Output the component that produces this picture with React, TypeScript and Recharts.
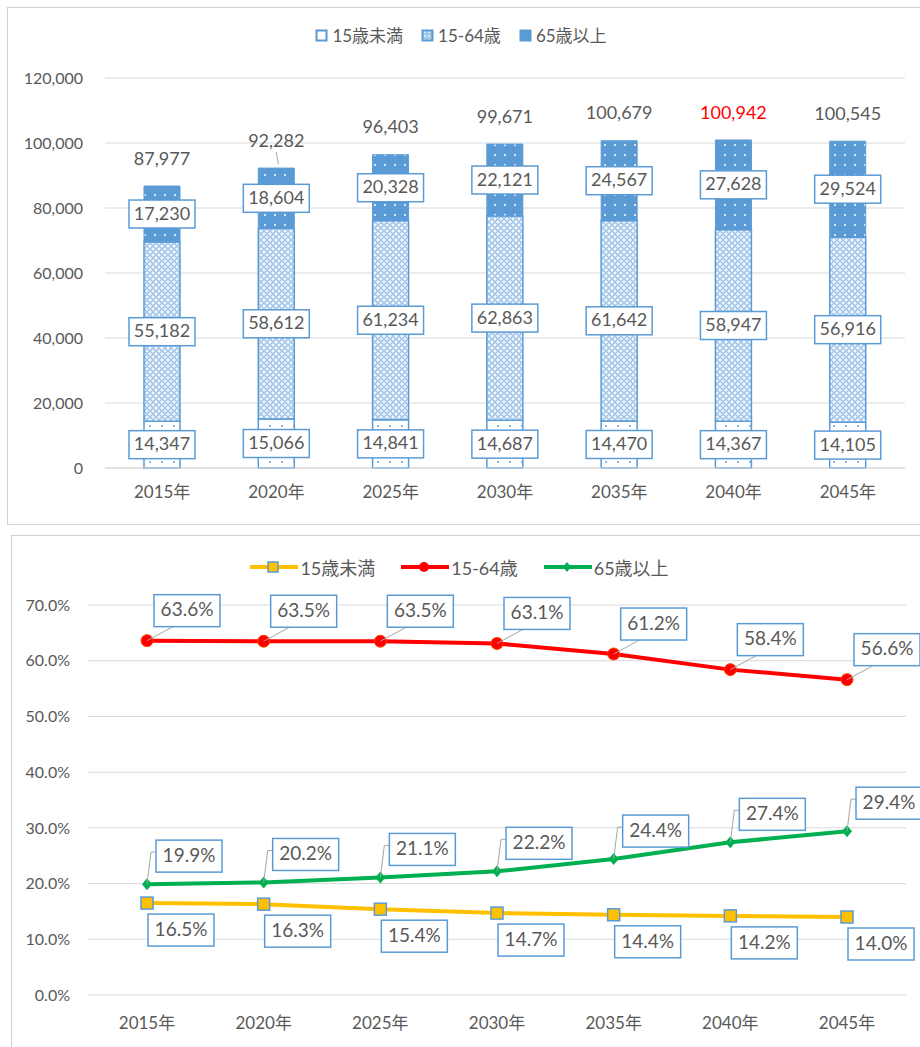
import React from "react";
import {
  BarChart,
  Bar,
  LineChart,
  Line,
  XAxis,
  YAxis,
  CartesianGrid,
  LabelList,
} from "recharts";

const years = ["2015年", "2020年", "2025年", "2030年", "2035年", "2040年", "2045年"];

// population (persons)
const under15 = [14347, 15066, 14841, 14687, 14470, 14367, 14105];
const working = [55182, 58612, 61234, 62863, 61642, 58947, 56916];
const elderly = [17230, 18604, 20328, 22121, 24567, 27628, 29524];
const totals = [87977, 92282, 96403, 99671, 100679, 100942, 100545];

// share of population (%)
const under15Pct = [16.5, 16.3, 15.4, 14.7, 14.4, 14.2, 14.0];
const workingPct = [63.6, 63.5, 63.5, 63.1, 61.2, 58.4, 56.6];
const elderlyPct = [19.9, 20.2, 21.1, 22.2, 24.4, 27.4, 29.4];

const popTicks = [0, 20000, 40000, 60000, 80000, 100000, 120000];
const pctTicks = [0, 10, 20, 30, 40, 50, 60, 70];

const seriesNames = ["15歳未満", "15-64歳", "65歳以上"];
const peakIndex = 5; // 2040 total is shown in red

const FONT = "Lato, 'Noto Sans CJK JP', sans-serif";
const TEXT = "#595959";
const BLUE = "#5b9bd5";
const GRID = "#d9d9d9";

const popData = years.map((year, i) => ({
  year,
  under15: under15[i],
  working: working[i],
  elderly: elderly[i],
  total: totals[i],
}));

const pctData = years.map((year, i) => ({
  year,
  under15: under15Pct[i],
  working: workingPct[i],
  elderly: elderlyPct[i],
}));

const fmt = (v: number) => v.toLocaleString("en-US");

function BoxLabel({ cx, cy, text, w = 66, h = 28, size = 18 }: any) {
  return (
    <g>
      <rect
        x={cx - w / 2}
        y={cy - h / 2}
        width={w}
        height={h}
        fill="#fff"
        stroke={BLUE}
        strokeWidth={1.5}
      />
      <text
        x={cx}
        y={cy + 1}
        textAnchor="middle"
        dominantBaseline="middle"
        fontSize={size}
        fill={TEXT}
        fontFamily={FONT}
      >
        {text}
      </text>
    </g>
  );
}

const segmentLabel = (props: any) => {
  const { x, y, width, height, value } = props;
  return <BoxLabel cx={x + width / 2} cy={y + height / 2} text={fmt(value)} />;
};

const totalLabel = (props: any) => {
  const { x, y, width, index } = props;
  const cx = x + width / 2;
  return (
    <g>
      {index === 1 && <line x1={cx} y1={y - 16} x2={cx + 2} y2={y - 4} stroke="#a6a6a6" />}
      <text
        x={cx}
        y={y - 26}
        textAnchor="middle"
        dominantBaseline="middle"
        fontSize={18}
        fill={index === peakIndex ? "#ff0000" : TEXT}
        fontFamily={FONT}
      >
        {fmt(totals[index])}
      </text>
    </g>
  );
};

// line chart labels: offset of box centre from the point
const pctLabel = (dx: number, dy: number, leader: string) => (props: any) => {
  const { x, y, value } = props;
  const cx = x + dx;
  const cy = y + dy;
  let path = "";
  if (leader === "up") path = `M${x},${y} L${cx - 14},${cy + 16}`;
  if (leader === "elbow") path = `M${x},${y} L${x + 4},${cy - 4} L${cx - 33},${cy - 4}`;
  return (
    <g>
      {path && <path d={path} stroke="#a6a6a6" strokeWidth={1} fill="none" />}
      <BoxLabel cx={cx} cy={cy} text={`${value.toFixed(1)}%`} w={66} h={32} size={19} />
    </g>
  );
};

const squareDot = (props: any) => (
  <rect
    key={`sq-${props.index}`}
    x={props.cx - 6}
    y={props.cy - 6}
    width={12}
    height={12}
    fill="#ffc000"
    stroke={BLUE}
    strokeWidth={1.5}
  />
);
const circleDot = (props: any) => (
  <circle key={`ci-${props.index}`} cx={props.cx} cy={props.cy} r={6} fill="#ff0000" stroke="#ff4000" />
);
const diamondDot = (props: any) => (
  <path
    key={`di-${props.index}`}
    d={`M${props.cx},${props.cy - 6} L${props.cx + 5},${props.cy} L${props.cx},${props.cy + 6} L${props.cx - 5},${props.cy} Z`}
    fill="#00b050"
  />
);

function Patterns() {
  return (
    <defs>
      <pattern id="pUnder" width="12" height="12" patternUnits="userSpaceOnUse">
        <rect width="12" height="12" fill="#fff" />
        <circle cx="6" cy="6" r="0.9" fill={BLUE} />
      </pattern>
      <pattern id="pWork" width="6" height="6" patternUnits="userSpaceOnUse">
        <rect width="6" height="6" fill="#eef4fb" />
        <circle cx="3" cy="3" r="2.3" fill="none" stroke={BLUE} strokeWidth="0.8" />
      </pattern>
      <pattern id="pOld" width="10" height="10" patternUnits="userSpaceOnUse">
        <rect width="10" height="10" fill={BLUE} />
        <circle cx="5" cy="5" r="1" fill="#fff" />
      </pattern>
    </defs>
  );
}

const legendText: React.CSSProperties = {
  fontFamily: FONT,
  fontSize: 17,
  color: TEXT,
  display: "flex",
  alignItems: "center",
  marginRight: 18,
};

function BarLegend() {
  const fills = ["#fff", "url(#pWorkL)", BLUE];
  return (
    <div
      style={{
        position: "absolute",
        top: 22,
        left: 0,
        width: 940,
        display: "flex",
        justifyContent: "center",
      }}
    >
      {seriesNames.map((name, i) => (
        <div key={name} style={legendText}>
          <svg width={14} height={14} style={{ marginRight: 3 }}>
            <defs>
              <pattern id="pWorkL" width="4" height="4" patternUnits="userSpaceOnUse">
                <rect width="4" height="4" fill="#dbe8f5" />
                <circle cx="2" cy="2" r="1.3" fill="none" stroke={BLUE} strokeWidth="0.7" />
              </pattern>
            </defs>
            <rect x={1.5} y={2.5} width={10} height={10} fill={fills[i]} stroke={BLUE} strokeWidth={2} />
          </svg>
          {name}
        </div>
      ))}
    </div>
  );
}

function LineLegend() {
  const colors = ["#ffc000", "#ff0000", "#00b050"];
  const markers = [
    <rect key="m0" x={18} y={3} width={10} height={10} fill="#ffc000" stroke={BLUE} strokeWidth={1.5} />,
    <circle key="m1" cx={23} cy={8} r={5} fill="#ff0000" />,
    <path key="m2" d="M23,3 L27,8 L23,13 L19,8 Z" fill="#00b050" />,
  ];
  return (
    <div
      style={{
        position: "absolute",
        top: 554,
        left: 0,
        width: 945,
        display: "flex",
        justifyContent: "center",
      }}
    >
      {seriesNames.map((name, i) => (
        <div key={name} style={{ ...legendText, fontSize: 18, marginRight: 26 }}>
          <svg width={48} height={16} style={{ marginRight: 2 }}>
            <line x1={0} y1={8} x2={48} y2={8} stroke={colors[i]} strokeWidth={4} />
            {markers[i]}
          </svg>
          {name}
        </div>
      ))}
    </div>
  );
}

const tickStyle = { fontSize: 16, fill: TEXT, fontFamily: FONT };
const xTickStyle = { fontSize: 17, fill: TEXT, fontFamily: FONT };

export default function App() {
  return (
    <div style={{ position: "absolute", left: 0, top: 0, width: 920, height: 1047, background: "#fff" }}>
      <div
        style={{
          position: "absolute",
          left: 7,
          top: 7,
          width: 915,
          height: 518,
          border: "1.5px solid #d0d0d0",
          boxSizing: "border-box",
        }}
      />
      <div
        style={{
          position: "absolute",
          left: 11,
          top: 535,
          width: 912,
          height: 515,
          border: "1.5px solid #d0d0d0",
          boxSizing: "border-box",
        }}
      />

      <BarLegend />
      <div style={{ position: "absolute", left: 0, top: 0 }}>
        <BarChart
          width={920}
          height={525}
          data={popData}
          margin={{ top: 78, right: 15, bottom: 27, left: 10 }}
          barSize={36}
        >
          <Patterns />
          <CartesianGrid vertical={false} stroke={GRID} />
          <XAxis
            dataKey="year"
            axisLine={{ stroke: GRID }}
            tickLine={false}
            tickSize={0}
            tickMargin={18}
            height={30}
            tick={xTickStyle}
          />
          <YAxis
            domain={[0, 120000]}
            ticks={popTicks}
            tickFormatter={fmt}
            axisLine={false}
            tickLine={false}
            tickSize={0}
            tickMargin={22}
            width={95}
            tick={tickStyle}
          />
          <Bar dataKey="under15" stackId="p" fill="url(#pUnder)" stroke={BLUE} strokeWidth={1.5} isAnimationActive={false}>
            <LabelList dataKey="under15" content={segmentLabel} />
          </Bar>
          <Bar dataKey="working" stackId="p" fill="url(#pWork)" stroke={BLUE} strokeWidth={1.5} isAnimationActive={false}>
            <LabelList dataKey="working" content={segmentLabel} />
          </Bar>
          <Bar dataKey="elderly" stackId="p" fill="url(#pOld)" stroke={BLUE} strokeWidth={1} isAnimationActive={false}>
            <LabelList dataKey="elderly" content={segmentLabel} />
            <LabelList dataKey="total" content={totalLabel} />
          </Bar>
        </BarChart>
      </div>

      <LineLegend />
      <div style={{ position: "absolute", left: 0, top: 535 }}>
        <LineChart
          width={920}
          height={512}
          data={pctData}
          margin={{ top: 70, right: 14, bottom: 22, left: 10 }}
        >
          <CartesianGrid vertical={false} stroke={GRID} />
          <XAxis
            dataKey="year"
            axisLine={false}
            tickLine={false}
            tickSize={0}
            tickMargin={22}
            height={30}
            padding={{ left: 59, right: 59 }}
            tick={xTickStyle}
          />
          <YAxis
            domain={[0, 70]}
            ticks={pctTicks}
            tickFormatter={(v: number) => `${v.toFixed(1)}%`}
            axisLine={false}
            tickLine={false}
            tickSize={0}
            tickMargin={18}
            width={78}
            tick={tickStyle}
          />
          <Line dataKey="under15" stroke="#ffc000" strokeWidth={4} dot={squareDot} isAnimationActive={false}>
            <LabelList dataKey="under15" content={pctLabel(34, 27, "none")} />
          </Line>
          <Line dataKey="working" stroke="#ff0000" strokeWidth={4} dot={circleDot} isAnimationActive={false}>
            <LabelList dataKey="working" content={pctLabel(40, -30, "up")} />
          </Line>
          <Line dataKey="elderly" stroke="#00b050" strokeWidth={4} dot={diamondDot} isAnimationActive={false}>
            <LabelList dataKey="elderly" content={pctLabel(42, -28, "elbow")} />
          </Line>
        </LineChart>
      </div>
    </div>
  );
}
